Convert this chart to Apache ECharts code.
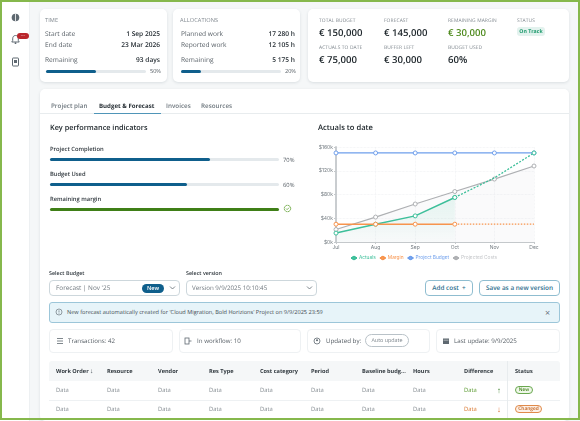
<!DOCTYPE html>
<html><head><meta charset="utf-8">
<script src="https://cdn.jsdelivr.net/npm/echarts@6/dist/echarts.min.js"></script>
<style>
html,body{margin:0;padding:0;width:580px;height:421px;overflow:hidden;background:#f5f7f8;font-family:"Open Sans",sans-serif;color:#333b42;text-rendering:geometricPrecision}
#page{position:absolute;left:0;top:0;width:580px;height:421px;filter:blur(.3px)}
.a{position:absolute;white-space:nowrap;line-height:1}
.box{position:absolute;background:#fff;border-radius:5px;box-sizing:border-box}
.shadow{box-shadow:0 1px 3px rgba(60,80,90,.14)}
.lab{font-size:5.6px;color:#7f878e;letter-spacing:.1px}
.txt{font-size:6.6px;color:#565e65}
.val{font-size:6.6px;color:#262e34;font-weight:600}
.big{font-size:9.6px;color:#20282d;font-weight:600}
.track{position:absolute;background:#e4e9ec;border-radius:2px}
.fill{position:absolute;left:0;top:0;height:100%;border-radius:2px}
.sel{position:absolute;background:#fff;border:1px solid #cdd7dc;border-radius:4px;box-sizing:border-box;height:16px}
.btn{position:absolute;background:#fff;border:1px solid #8fbdd0;border-radius:4px;box-sizing:border-box;height:16px;font-size:6.4px;color:#2d6e8e;font-weight:600;text-align:center;line-height:14px}
.th{font-size:5.6px;font-weight:700;color:#30383e}
.td{font-size:5.8px;color:#858c92}
svg{position:absolute}
</style></head><body>
<div id="page">
<div class="a" style="left:0;top:0;width:29px;height:421px;background:#fff;border-right:1px solid #edf0f2"></div>
<div id="root"></div>
<div id="chart" style="position:absolute;left:0;top:0;width:580px;height:421px"></div>
<div style="position:absolute;left:0;top:0;width:580px;height:420px;box-sizing:border-box;border:2.5px solid #86b84c;pointer-events:none"></div>
</div>
<script>
const months = ['Jul','Aug','Sep','Oct','Nov','Dec'];
const actuals = [15,30,44,75,null,null];
const actualsForecast = [null,null,null,75,108,150];
const margin = [30,30,30,30,null,null];
const marginForecast = [null,null,null,30,30,30];
const projectBudget = [150,150,150,150,150,150];
const projectedCosts = [21,42,64,85,106,128];
const yTicks = [0,40,80,120,160];
const kpiNames = ['Project Completion','Budget Used','Remaining margin'];
const kpiValues = [70,60,100];
const tableColumns = ['Work Order','Resource','Vendor','Res Type','Cost category','Period','Baseline budg...','Hours','Difference','Status'];

const root = document.getElementById('root');
function add(html){root.insertAdjacentHTML('beforeend',html);}
function t(x,y,s,c,extra){add(`<div class="a ${c||''}" style="left:${x}px;top:${y}px;${extra||''}">${s}</div>`);}
function r(x,y,s,c,extra){add(`<div class="a ${c||''}" style="right:${580-x}px;top:${y}px;${extra||''}">${s}</div>`);}
function box(x,y,w,h,extra,c){add(`<div class="box ${c||''}" style="left:${x}px;top:${y}px;width:${w}px;height:${h}px;${extra||''}"></div>`);}
function bar(x,y,w,h,pct,col){add(`<div class="track" style="left:${x}px;top:${y}px;width:${w}px;height:${h}px"><div class="fill" style="width:${pct}%;background:${col}"></div></div>`);}

// sidebar icons
add(`<svg style="left:10px;top:12px" width="11" height="11" viewBox="0 0 11 11"><circle cx="5.5" cy="5.5" r="3.8" fill="#5e6870"/><path d="M5.5 1.7v7.6" stroke="#fff" stroke-width=".8"/></svg>`);
add(`<svg style="left:10px;top:34px" width="11" height="11" viewBox="0 0 11 11"><path d="M5.5 1.5c-2 0-2.8 1.5-2.8 3.3v1.7L1.8 8h7.4l-.9-1.5V4.8c0-1.8-.8-3.3-2.8-3.3z" fill="none" stroke="#5e6870"/><circle cx="5.5" cy="9.2" r=".9" fill="#5e6870"/></svg>`);
add(`<div class="a" style="left:17px;top:33px;width:12px;height:6px;border-radius:3px;background:#b9262c;color:#f2d0d0;font-size:4.5px;line-height:5px;text-align:center;font-weight:700">...</div>`);
add(`<svg style="left:11px;top:57px" width="9" height="10" viewBox="0 0 9 10"><rect x="1.5" y="1" width="6" height="8" rx=".6" fill="none" stroke="#5e6870"/><rect x="3" y="3" width="3" height="3" fill="#5e6870"/></svg>`);

// top cards
box(40,9,127,73,'','shadow'); box(173,9,127,73,'','shadow'); box(308,9,261,73,'','shadow');
t(45,18,'TIME','lab');
t(45,30.5,'Start date','txt'); r(160,30.5,'1 Sep 2025','val');
t(45,41.5,'End date','txt'); r(160,41.5,'23 Mar 2026','val');
t(45,56.5,'Remaining','txt'); r(160,56.5,'93 days','val');
bar(46,70,100,3,50,'#0f5f8c'); r(161,68.5,'50%','txt','font-size:5.6px');
t(180,18,'ALLOCATIONS','lab');
t(181,30.5,'Planned work','txt'); r(295,30.5,'17 280 h','val');
t(181,41.5,'Reported work','txt'); r(295,41.5,'12 105 h','val');
t(181,56.5,'Remaining','txt'); r(295,56.5,'5 175 h','val');
bar(181,70,100,3,20,'#0f5f8c'); r(296,68.5,'20%','txt','font-size:5.6px');
const cols=[319,384,448];
[['TOTAL BUDGET','€ 150,000'],['FORECAST','€ 145,000'],['REMAINING MARGIN','€ 30,000']].forEach((p,i)=>{t(cols[i],18.5,p[0],'lab','font-size:4.9px');t(cols[i],27.5,p[1],'big',i==2?'color:#4f8a1e':'');});
[['ACTUALS TO DATE','€ 75,000'],['BUFFER LEFT','€ 30,000'],['BUDGET USED','60%']].forEach((p,i)=>{t(cols[i],46,p[0],'lab','font-size:4.9px');t(cols[i],55,p[1],'big');});
t(517,19,'STATUS','lab','font-size:4.9px');
add(`<div class="a" style="left:517px;top:27px;width:28px;height:9px;background:#e3f2ee;border-radius:3px;color:#1d9a6c;font-size:5.2px;font-weight:700;line-height:9px;text-align:center">On Track</div>`);

// main card
box(40,89,529,332,'','shadow');
add(`<div class="a" style="left:40px;top:113px;width:529px;height:1px;background:#e8ecee"></div>`);
t(51,103,'Project plan','','font-size:6.3px;color:#6f787f;font-weight:600');
t(99,103,'Budget &amp; Forecast','','font-size:6.1px;color:#262e34;font-weight:700');
t(166,103,'Invoices','','font-size:6.3px;color:#6f787f;font-weight:600');
t(201,103,'Resources','','font-size:6.3px;color:#6f787f;font-weight:600');
add(`<div class="a" style="left:94px;top:113px;width:67px;height:1.2px;background:#4f95b8"></div>`);

// KPI
t(50,125,'Key performance indicators','','font-size:7.3px;font-weight:600;color:#20282d');
t(318,125,'Actuals to date','','font-size:7.6px;font-weight:600;color:#20282d');
const kpiY=[147,172,197];
kpiNames.forEach((n,i)=>{
  t(50,kpiY[i],n,'','font-size:5.8px;font-weight:600;color:#30383e');
  bar(50,kpiY[i]+11,229,3,kpiValues[i],i==2?'#3f7f17':'#0f5f8c');
  if(i<2) t(283,kpiY[i]+11,kpiValues[i]+'%','txt','font-size:5.8px');
});
add(`<svg style="left:283px;top:204px" width="9" height="9" viewBox="0 0 9 9"><circle cx="4.5" cy="4.5" r="3.2" fill="none" stroke="#5f9f30" stroke-width=".9" stroke-dasharray="2 .5"/><path d="M3 4.5l1.1 1.1 2-2" fill="none" stroke="#5f9f30" stroke-width=".8"/></svg>`);

// selects
t(49,271,'Select Budget','','font-size:5.4px;font-weight:600;color:#30383e');
t(186,271,'Select version','','font-size:5.4px;font-weight:600;color:#30383e');
add(`<div class="sel" style="left:49px;top:280px;width:131px"></div><div class="sel" style="left:186px;top:280px;width:131px"></div>`);
t(56,285,"Forecast | Nov '25",'txt','color:#6f777e;font-size:6.4px');
add(`<div class="a" style="left:142px;top:283.5px;width:22px;height:9px;border-radius:5px;background:#0f5f8c;color:#fff;font-size:5.6px;font-weight:600;line-height:9px;text-align:center">New</div>`);
t(192,285,'Version 9/9/2025 10:10:45','txt','color:#6f777e;font-size:6.2px');
const chev=x=>add(`<svg style="left:${x}px;top:285px" width="7" height="6" viewBox="0 0 7 6"><path d="M1 1.5l2.5 2.5 2.5-2.5" fill="none" stroke="#5e6870" stroke-width=".8"/></svg>`);
chev(169);chev(306);
add(`<div class="btn" style="left:425px;top:280px;width:48px">Add cost&nbsp; +</div><div class="btn" style="left:479px;top:280px;width:81px">Save as a new version</div>`);

// info bar
add(`<div class="a" style="left:49px;top:302px;width:511px;height:21px;box-sizing:border-box;background:#e7f4f9;border:1px solid #9cc6d9;border-radius:3px"></div>`);
add(`<svg style="left:55px;top:308px" width="8" height="8" viewBox="0 0 8 8"><circle cx="4" cy="4" r="3" fill="none" stroke="#6b757c" stroke-width=".7"/><path d="M4 2.3v2.2M4 5.2v.6" stroke="#6b757c" stroke-width=".7"/></svg>`);
t(67,309.5,"New forecast automatically created for 'Cloud Migration, Bold Horizions' Project on 9/9/2025 23:59",'','font-size:5.6px;color:#434c52');
t(545,308,'×','','font-size:9px;color:#5e6870');

// stats
[[49,124],[179,122],[307,123],[436,124]].forEach(p=>box(p[0],329,p[1],24,'border:1px solid #eef1f3;border-radius:4px'));
t(68,338,'Transactions: 42','txt','font-size:6.2px');
t(197,338,'In workflow: 10','txt','font-size:6.2px');
t(326,338,'Updated by:','txt','font-size:6.2px');
add(`<div class="a" style="left:365px;top:334px;width:44px;height:13px;box-sizing:border-box;border:1px solid #b9c2c8;border-radius:7px;font-size:5.4px;color:#7c858c;text-align:center;line-height:11px">Auto update</div>`);
t(454,338,'Last update: 9/9/2025','txt','font-size:6.2px');
const ic=(x,inner)=>add(`<svg style="left:${x}px;top:337px" width="8" height="8" viewBox="0 0 8 8">${inner}</svg>`);
ic(56,'<path d="M1 1.5h6M1 4h6M1 6.5h6" stroke="#5e6870" stroke-width=".8"/>');
ic(184,'<rect x="1" y="1" width="4" height="6" fill="none" stroke="#5e6870" stroke-width=".8"/><path d="M5 4h2.5" stroke="#5e6870" stroke-width=".8"/>');
ic(313,'<circle cx="4" cy="4" r="3" fill="none" stroke="#5e6870" stroke-width=".8"/><circle cx="4" cy="3.2" r="1" fill="#5e6870"/>');
ic(442,'<rect x="1" y="1.5" width="6" height="5.5" fill="#5e6870"/><path d="M1.5 3.2h5" stroke="#fff" stroke-width=".5"/>');

// table
add(`<div class="a" style="left:49px;top:361px;width:511px;height:20px;background:#f5f7f8;border-radius:3px 3px 0 0"></div>`);
const colX=[56,107,158,209,260,311,362,413,464,515];
tableColumns.forEach((c,i)=>t(colX[i],368.5,c,'th'));
t(90,368,'↓','','font-size:6.5px;color:#4a5359');
add(`<div class="a" style="left:49px;top:400px;width:511px;height:1px;background:#eef1f3"></div><div class="a" style="left:507px;top:361px;width:1px;height:57px;background:#e8ecee"></div>`);
[387.5,406.5].forEach((y,row)=>{
  for(let i=0;i<8;i++) t(colX[i],y,'Data','td');
  t(464,y,'Data','td',row==0?'color:#5a9a30':'color:#d9772f');
  t(497,y-1,row==0?'↑':'↓','','font-size:8px;color:'+(row==0?'#4a8a3a':'#d9662a'));
});
add(`<div class="a" style="left:515px;top:386px;width:18px;height:8px;box-sizing:border-box;border:1px solid #6aa84f;background:#eef7e8;border-radius:4px;font-size:4.8px;font-weight:600;color:#3f7f17;text-align:center;line-height:6px">New</div>`);
add(`<div class="a" style="left:515px;top:405px;width:27px;height:8px;box-sizing:border-box;border:1px solid #e08a4a;background:#fdf0e6;border-radius:4px;font-size:4.8px;font-weight:600;color:#c25f1a;text-align:center;line-height:6px">Changed</div>`);

// chart
const GREEN='#3dbf9a',ORANGE='#f7944d',BLUE='#6f9fec',GRAY='#aeb0b3';
const sym={symbol:'circle',symbolSize:4,showSymbol:true};
function line(name,data,color,extra){
  return Object.assign({name,type:'line',data,...sym,connectNulls:false,
    lineStyle:{color,width:1.2},itemStyle:{color:'#fff',borderColor:color,borderWidth:1},z:3},extra||{});
}
const chart=echarts.init(document.getElementById('chart'),null,{renderer:'canvas'});
chart.setOption({
  animation:false,backgroundColor:'transparent',
  legend:{left:350,top:255.5,padding:0,itemWidth:6,itemHeight:3,itemGap:3,
    textStyle:{fontSize:4.8,color:'#6f777e',fontFamily:'Inter, sans-serif',padding:[0,0,0,-3]},
    data:[
      {name:'Actuals',textStyle:{color:GREEN}},
      {name:'Margin',textStyle:{color:ORANGE}},
      {name:'Project Budget',textStyle:{color:BLUE}},
      {name:'Projected Costs',textStyle:{color:'#c3c5c8'}}]},
  grid:{left:336,right:46,top:147,bottom:179,containLabel:false},
  xAxis:{type:'category',data:months,boundaryGap:false,
    axisLine:{lineStyle:{color:'#c4c8cb',width:1}},axisTick:{show:true,length:2,lineStyle:{color:'#c4c8cb'}},
    axisLabel:{fontSize:5,color:'#737b81',margin:3,fontFamily:'Inter, sans-serif'},
    splitLine:{show:true,lineStyle:{color:'#eceef0',type:'dotted',width:.7}}},
  yAxis:{type:'value',min:0,max:160,interval:40,
    axisLine:{show:true,lineStyle:{color:'#c4c8cb',width:1.8}},axisTick:{show:true,length:2,lineStyle:{color:'#c4c8cb'}},
    axisLabel:{fontSize:5,color:'#737b81',margin:3,fontFamily:'Inter, sans-serif',
      formatter:v=>yTicks.includes(v)?`$${v}k`:''},
    splitLine:{show:true,lineStyle:{color:'#eceef0',type:'dotted',width:.7}}},
  series:[
    line('Projected Costs',projectedCosts,GRAY,{z:2,areaStyle:{color:'rgba(200,208,214,.14)'}}),
    line('Project Budget',projectBudget,BLUE),
    line('Actuals',actuals,GREEN,{lineStyle:{color:GREEN,width:1.5},z:4,
      areaStyle:{color:new echarts.graphic.LinearGradient(0,0,0,1,[{offset:0,color:'rgba(61,191,154,.16)'},{offset:1,color:'rgba(61,191,154,.02)'}])}}),
    line('Actuals',actualsForecast,GREEN,{lineStyle:{color:GREEN,width:1.3,type:[2,1.5]},symbol:'circle',z:3,
      symbolSize:(v,p)=>p.dataIndex===4?0:4}),
    line('Margin',margin,ORANGE,{lineStyle:{color:ORANGE,width:1.5},z:5}),
    line('Margin',marginForecast,ORANGE,{lineStyle:{color:ORANGE,width:1.3,type:[1.5,1.5]},symbolSize:0,z:3})
  ]
});
</script>
</body></html>
